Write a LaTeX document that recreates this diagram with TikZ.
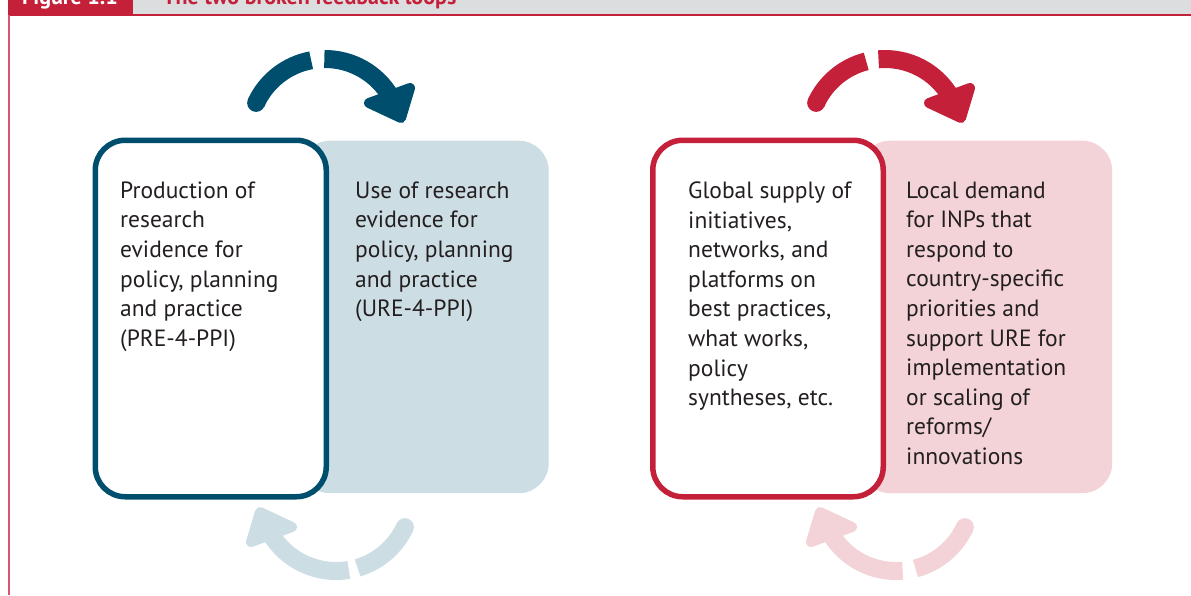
\documentclass[tikz,border=0pt]{standalone}
\usepackage{fontspec}
\setmainfont{PT Sans}
\usetikzlibrary{calc}
\definecolor{dblue}{HTML}{004E6E}
\definecolor{lblue}{HTML}{CDDDE4}
\definecolor{dred}{HTML}{C4203A}
\definecolor{lpink}{HTML}{F3D3D8}
\definecolor{hgray}{HTML}{DCDDDF}
\definecolor{txt}{HTML}{231F20}
\begin{document}
\begin{tikzpicture}[x=1pt,y=1pt,
  boxtext/.style={anchor=north west, inner sep=0pt, align=left, text=txt, font=\fontsize{23.5}{29.6}\selectfont},
  outbox/.style={rectangle, line width=5.5pt, rounded corners=30pt, fill=white, inner sep=0pt, anchor=north west},
  backbox/.style={rectangle, rounded corners=30pt, inner sep=0pt, anchor=north west},
  arcline/.style={line width=18pt},
  headtext/.style={inner sep=0pt, font=\fontsize{22}{24}\bfseries\selectfont},
  arrowtip/.style={line width=10pt, line join=round},
]
\useasboundingbox (0,0) rectangle (1191,-595);
\begin{scope}
\clip (0,0) rectangle (1191,-595);
% header
\fill[dred] (8,0) rectangle (133,-15);
\fill[hgray] (133,0) rectangle (1191,-14.5);
\draw[dred, line width=2pt] (8,-15.3) -- (1191,-15.3);
\draw[dred!75, line width=1.3pt] (9,-15) -- (9,-595);
\node[headtext, anchor=base, text=white] (fig) at (70,-4) {Figure 1.1};
\node[headtext, anchor=base west, text=dred] (title) at (163,-4) {The two broken feedback loops};

% left pair boxes
\node[backbox, fill=lblue, minimum width=248.5pt, minimum height=352.5pt] (use) at (300,-140.5) {};
\node[outbox, draw=dblue, minimum width=231pt, minimum height=356.5pt] (prod) at (92.5,-137.5) {};
% right pair boxes
\node[backbox, fill=lpink, minimum width=252pt, minimum height=352.5pt] (demand) at (860,-140.5) {};
\node[outbox, draw=dred, minimum width=230.5pt, minimum height=356.5pt] (supply) at (650,-137.5) {};

% texts
\node[boxtext] (t1) at (120,-181.5) {Production of\\research\\evidence for\\policy, planning\\and practice\\(PRE-4-PPI)};
\node[boxtext] (t2) at (355,-181.5) {Use of research\\evidence for\\policy, planning\\and practice\\(URE-4-PPI)};
\node[boxtext] (t3) at (688,-181.5) {Global supply of\\initiatives,\\networks, and\\platforms on\\best practices,\\what works,\\policy\\syntheses, etc.};
\node[boxtext] (t4) at (906,-181.5) {Local demand\\for INPs that\\respond to\\country-specific\\priorities and\\support URE for\\implementation\\or scaling of\\reforms/\\innovations};

% arc centres
\coordinate (c1) at (325,-135);
\coordinate (c2) at (336,-495);
\coordinate (c3) at (885,-135);
\coordinate (c4) at (896,-495);

% top left loop arrow
\fill[dblue] ($(c1)+(155:76)$) circle[radius=9pt];
\draw[arcline, dblue] ($(c1)+(155:76)$) arc[start angle=155, end angle=100.5, radius=76pt];
\draw[arcline, dblue] ($(c1)+(90.5:76)$) arc[start angle=90.5, end angle=30, radius=76pt];
\filldraw[arrowtip, dblue] (410,-88) -- (369,-103) -- (401,-118) -- cycle;

% bottom left loop arrow
\fill[lblue] ($(c2)+(335:76)$) circle[radius=9pt];
\draw[arcline, lblue] ($(c2)+(335:76)$) arc[start angle=335, end angle=286.5, radius=76pt];
\draw[arcline, lblue] ($(c2)+(279.7:76)$) arc[start angle=279.7, end angle=210, radius=76pt];
\filldraw[arrowtip, lblue] (251,-542) -- (292,-527) -- (260,-512) -- cycle;

% top right loop arrow
\fill[dred] ($(c3)+(155:76)$) circle[radius=9pt];
\draw[arcline, dred] ($(c3)+(155:76)$) arc[start angle=155, end angle=104.3, radius=76pt];
\draw[arcline, dred] ($(c3)+(94.9:76)$) arc[start angle=94.9, end angle=30, radius=76pt];
\filldraw[arrowtip, dred] (970,-88) -- (929,-103) -- (961,-118) -- cycle;

% bottom right loop arrow
\fill[lpink] ($(c4)+(335:76)$) circle[radius=9pt];
\draw[arcline, lpink] ($(c4)+(335:76)$) arc[start angle=335, end angle=284.8, radius=76pt];
\draw[arcline, lpink] ($(c4)+(275:76)$) arc[start angle=275, end angle=210, radius=76pt];
\filldraw[arrowtip, lpink] (811,-542) -- (852,-527) -- (820,-512) -- cycle;
\end{scope}
\end{tikzpicture}
\end{document}
